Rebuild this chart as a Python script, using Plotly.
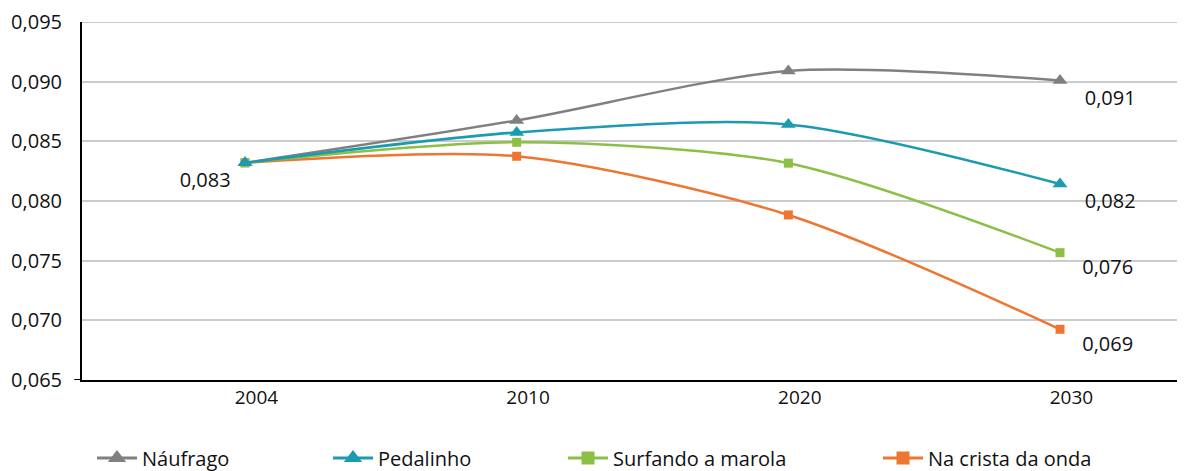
import plotly.graph_objects as go

years = ["2004", "2010", "2020", "2030"]
naufrago = [0.0832, 0.08675, 0.0909, 0.0901]
pedalinho = [0.0832, 0.08575, 0.08642, 0.08142]
surfando = [0.0832, 0.08492, 0.08317, 0.07567]
crista = [0.0832, 0.08375, 0.07883, 0.06925]
series_names = ["Náufrago", "Pedalinho", "Surfando a marola", "Na crista da onda"]
end_labels = ["0,091", "0,082", "0,076", "0,069"]
start_label = "0,083"
y_ticks = [0.065, 0.070, 0.075, 0.080, 0.085, 0.090, 0.095]

colors = ["#808080", "#1a9bb1", "#8cbf45", "#ef7630"]
symbols = ["triangle-up", "triangle-up", "square", "square"]
all_series = [naufrago, pedalinho, surfando, crista]
legend_ids = ["legend", "legend2", "legend3", "legend4"]
legend_x_px = [92, 328, 563, 878]
draw_order = [3, 2, 0, 1]  # teal drawn last so it sits on top at 2004

FONT = "Open Sans"
OFF = 8  # page body margin
XR = [-0.6, 3.46]
YR = [0.065, 0.095]
TICK_SHIFT = 0.042
GRID = "#c9cbcc"

fig = go.Figure()
# top gridline (plotly omits the grid line at the range edge)
fig.add_shape(type="line", xref="paper", yref="y", x0=0, x1=1, y0=YR[1], y1=YR[1],
              line=dict(color=GRID, width=2), layer="below")

for i in draw_order:
    name, vals, col, sym, lab = series_names[i], all_series[i], colors[i], symbols[i], end_labels[i]
    texts = [""] * len(years)
    pos = ["bottom right"] * len(years)
    texts[-1] = "   " + lab
    if i == 0:
        texts[0] = start_label + " "
        pos[0] = "bottom left"
    fig.add_trace(go.Scatter(
        x=years, y=vals, name=name, mode="lines+markers+text",
        text=texts, textposition=pos,
        textfont=dict(family=FONT, size=20, color="#111"),
        line=dict(color=col, width=2.5, shape="spline", smoothing=0.8),
        marker=dict(symbol=sym, size=13 if sym.startswith("tri") else 9, color=col),
        showlegend=False, cliponaxis=False,
    ))

for name, col, sym, lg in zip(series_names, colors, symbols, legend_ids):
    # legend entry with a larger symbol
    fig.add_trace(go.Scatter(
        x=[None], y=[None], name=name, mode="lines+markers",
        line=dict(color=col, width=3),
        marker=dict(symbol=sym, size=18 if sym.startswith("tri") else 13, color=col),
        legend=lg, showlegend=True,
    ))

# carrier for the tick-label axis
fig.add_trace(go.Scatter(x=list(range(len(years))), y=[None] * len(years), xaxis="x2",
                         mode="markers", showlegend=False, hoverinfo="skip"))

# small tick extension at axis corner
fig.add_shape(type="line", xref="paper", yref="y", x0=-0.007, x1=0, y0=YR[0], y1=YR[0],
              line=dict(color="black", width=2))

W, H = 1185 - OFF, 471 - OFF
layouts = {}
for lg, xp in zip(legend_ids, legend_x_px):
    layouts[lg] = dict(x=(xp - OFF) / W, xref="container", xanchor="left",
                       y=1 - (458 - OFF) / H, yref="container", yanchor="middle",
                       orientation="h", font=dict(family=FONT, size=20, color="#111"),
                       bgcolor="rgba(0,0,0,0)", itemwidth=40)

fig.update_layout(
    width=W, height=H,
    margin=dict(l=82 - OFF, r=0, t=20 - OFF, b=H - (380 - OFF)),
    paper_bgcolor="white", plot_bgcolor="white",
    separators=",.",
    showlegend=True,
    font=dict(family=FONT, size=19, color="#111"),
    xaxis=dict(type="category", range=XR, showgrid=False,
               showline=True, linecolor="black", linewidth=2,
               ticks="", showticklabels=False, zeroline=False),
    xaxis2=dict(overlaying="x", anchor="y", side="bottom", range=[XR[0] - TICK_SHIFT, XR[1] - TICK_SHIFT],
                tickvals=list(range(len(years))), ticktext=years, showgrid=False, showline=False,
                zeroline=False, ticks="", ticklabelstandoff=4,
                tickfont=dict(family=FONT, size=19, color="#111")),
    yaxis=dict(range=YR, tickvals=y_ticks, tickformat=".3f",
               showgrid=True, gridcolor=GRID, gridwidth=2,
               showline=True, linecolor="black", linewidth=2, zeroline=False,
               ticks="", ticklabelstandoff=14, ticklabeloverflow="allow",
               tickfont=dict(family=FONT, size=20, color="#111")),
    **layouts,
)
fig.write_html("out.html")
